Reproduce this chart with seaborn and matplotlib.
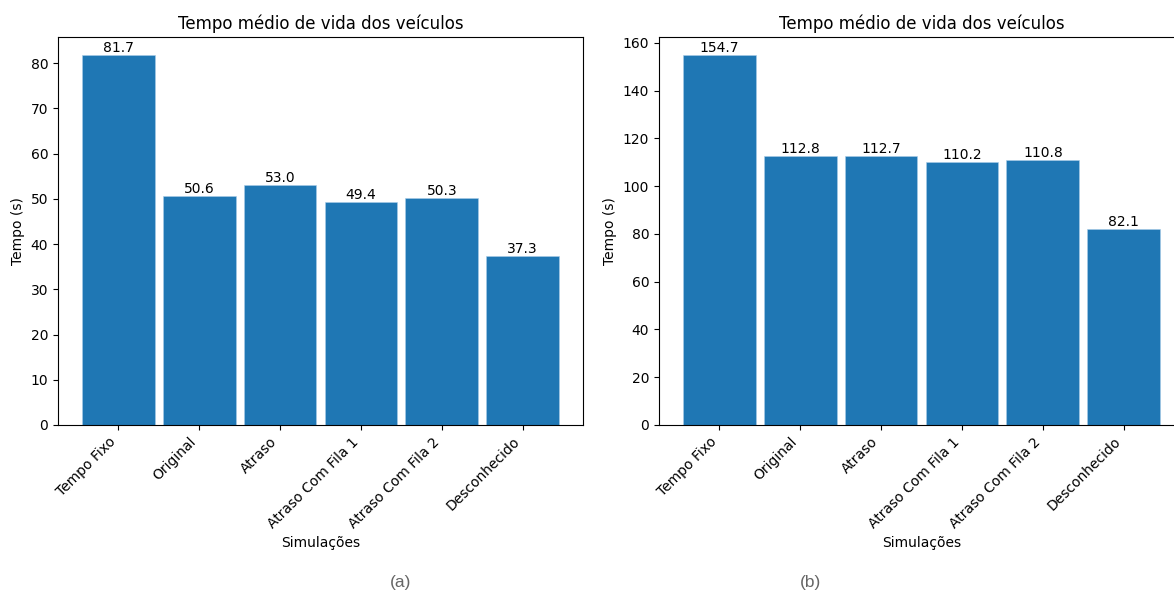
#!/usr/bin/env python3
"""Tempo medio de vida dos veiculos, two scenarios side by side."""

import matplotlib as mpl
mpl.use("Agg")
import matplotlib.pyplot as plt
import seaborn as sns

SIMULACOES = ["Tempo Fixo", "Original", "Atraso", "Atraso Com Fila 1",
              "Atraso Com Fila 2", "Desconhecido"]
TEMPO_A = [81.7, 50.6, 53.0, 49.4, 50.3, 37.3]
TEMPO_B = [154.7, 112.8, 112.7, 110.2, 110.8, 82.1]
CAPTIONS = ["(a)", "(b)"]

BAR_COLOR = "#1f77b4"


def draw_panel(ax, values):
    """Bar chart of mean vehicle lifetime onto `ax`."""
    sns.barplot(x=SIMULACOES, y=values, ax=ax, color=BAR_COLOR,
                saturation=1, width=0.9, edgecolor="#a9cde8", linewidth=0.4)
    n = len(SIMULACOES)
    ax.set_xlim(-0.745, n - 1 + 0.745)
    ax.bar_label(ax.containers[0], fmt="%.1f", fontsize=10, padding=0)
    ax.set_title("Tempo médio de vida dos veículos", fontsize=12)
    ax.set_xlabel("Simulações", fontsize=10)
    ax.set_ylabel("Tempo (s)", fontsize=10)
    ax.tick_params(labelsize=10)
    plt.setp(ax.get_xticklabels(), rotation=45, ha="right")


def main():
    fig = plt.figure(figsize=(11.74, 6.03), dpi=100)
    ax_a = fig.add_axes([0.0494, 0.2952, 0.4472, 0.6434])
    ax_b = fig.add_axes([0.5613, 0.2952, 0.4472, 0.6434])

    draw_panel(ax_a, TEMPO_A)
    draw_panel(ax_b, TEMPO_B)

    # Sub-figure captions
    for x, cap in zip((0.341, 0.690), CAPTIONS):
        fig.text(x, 0.022, cap, ha="center", va="bottom", fontsize=12.5,
                 color="#666666", family=["Liberation Sans", "DejaVu Sans"])

    fig.savefig("out.png", dpi=100)


if __name__ == "__main__":
    main()
